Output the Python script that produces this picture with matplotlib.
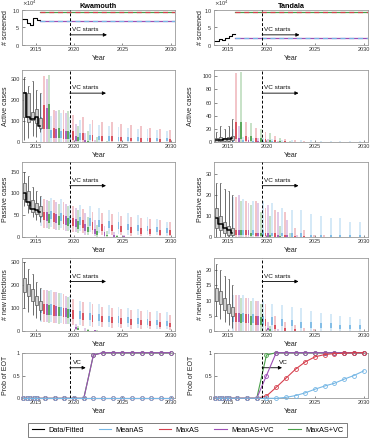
import numpy as np
import matplotlib
matplotlib.use("Agg")
import matplotlib.pyplot as plt
from matplotlib.lines import Line2D

plt.rcParams["font.family"] = ["Liberation Sans", "DejaVu Sans"]

# ──────────────────────────────────────────────
# Data
# ──────────────────────────────────────────────
years = [2017, 2018, 2019, 2020, 2021, 2022, 2023, 2024, 2025, 2026, 2027, 2028, 2029, 2030]
data_x = [2014.85, 2015.25, 2015.7, 2016.1, 2016.5]
vc_start = 2019.55

strategies = ["MeanAS", "MaxAS", "MeanAS+VC", "MaxAS+VC"]
colors = ["#76b7e5", "#d6404e", "#9d4fb5", "#4aa04a"]
offsets = [-0.4, -0.1, 0.15, 0.4]

# screened (people)
ks_x = [2014.6, 2015.1, 2015.4, 2015.75, 2016.2, 2016.5]
ks_y = [7.3e4, 6.2e4, 5.7e4, 7.6e4, 7.1e4, 7.1e4]
ks_mean, ks_max = 6.9e4, 9.4e4
ts_x = [2014.65, 2015.1, 2015.45, 2015.75, 2016.15, 2016.5, 2016.75]
ts_y = [1.0e4, 1.7e4, 1.4e4, 2.1e4, 2.6e4, 3.2e4, 3.2e4]
ts_mean, ts_max = 1.9e4, 9.5e4

# Kwamouth active cases
ka_data_lo = [10, 20, 30, 25, 50]
ka_data_q1 = [120, 95, 105, 90, 70]
ka_data_q3 = [240, 235, 145, 160, 115]
ka_data_hi = [310, 265, 290, 250, 235]
ka_fit = [235, 120, 112, 120, 78]
ka_mean_hi = [230, 125, 140, 120, 105, 85, 80, 78, 72, 68, 65, 62, 60, 55]
ka_mean_q3 = [120, 60, 55, 50, 42, 36, 32, 30, 27, 25, 24, 22, 21, 20]
ka_mean_q1 = [60, 22, 20, 16, 12, 10, 9, 8, 7, 6, 6, 5, 5, 4]
ka_max_hi = [315, 155, 155, 130, 120, 105, 95, 95, 85, 80, 75, 70, 65, 60]
ka_max_q3 = [175, 70, 62, 52, 42, 36, 30, 28, 25, 22, 20, 19, 17, 16]
ka_max_q1 = [65, 22, 18, 12, 9, 7, 5, 5, 4, 4, 3, 3, 3, 2]
ka_meanvc_hi = [300, 150, 140, 85, 45, 12, 3, 1, 0, 0, 0, 0, 0, 0]
ka_meanvc_q3 = [165, 65, 52, 28, 10, 2, 0, 0, 0, 0, 0, 0, 0, 0]
ka_meanvc_q1 = [62, 22, 16, 6, 1, 0, 0, 0, 0, 0, 0, 0, 0, 0]
ka_maxvc_hi = [320, 155, 150, 75, 55, 25, 5, 1, 0, 0, 0, 0, 0, 0]
ka_maxvc_q3 = [180, 68, 55, 25, 8, 2, 0, 0, 0, 0, 0, 0, 0, 0]
ka_maxvc_q1 = [65, 22, 16, 5, 1, 0, 0, 0, 0, 0, 0, 0, 0, 0]

# Kwamouth passive cases
kp_data_lo = [70, 55, 45, 38, 35]
kp_data_q1 = [88, 72, 58, 52, 48]
kp_data_q3 = [125, 105, 85, 78, 70]
kp_data_hi = [150, 140, 115, 105, 95]
kp_fit = [100, 80, 65, 62, 58]
kp_mean_lo = [25, 22, 20, 15, 12, 10, 8, 7, 6, 5, 4, 3, 3, 2]
kp_mean_q1 = [42, 40, 36, 30, 28, 25, 22, 20, 18, 16, 14, 12, 10, 9]
kp_mean_q3 = [62, 60, 55, 48, 45, 42, 38, 36, 33, 30, 27, 24, 22, 20]
kp_mean_hi = [92, 90, 86, 74, 72, 70, 66, 62, 58, 55, 50, 45, 40, 35]
kp_max_lo = [20, 18, 15, 10, 8, 6, 5, 4, 3, 2, 2, 1, 1, 1]
kp_max_q1 = [38, 35, 30, 25, 20, 16, 14, 12, 10, 8, 7, 6, 5, 4]
kp_max_q3 = [58, 55, 50, 42, 38, 33, 30, 28, 25, 22, 20, 18, 16, 15]
kp_max_hi = [88, 85, 80, 70, 65, 58, 55, 52, 48, 45, 42, 40, 38, 35]
kp_meanvc_lo = [20, 16, 14, 10, 5, 1, 0, 0, 0, 0, 0, 0, 0, 0]
kp_meanvc_q1 = [36, 32, 28, 22, 14, 6, 2, 0, 0, 0, 0, 0, 0, 0]
kp_meanvc_q3 = [56, 52, 48, 40, 30, 18, 10, 3, 1, 0, 0, 0, 0, 0]
kp_meanvc_hi = [85, 80, 76, 66, 55, 38, 25, 10, 3, 0, 0, 0, 0, 0]
kp_maxvc_lo = [18, 15, 12, 8, 3, 0, 0, 0, 0, 0, 0, 0, 0, 0]
kp_maxvc_q1 = [32, 28, 25, 18, 10, 4, 1, 0, 0, 0, 0, 0, 0, 0]
kp_maxvc_q3 = [52, 48, 44, 36, 22, 12, 4, 1, 0, 0, 0, 0, 0, 0]
kp_maxvc_hi = [82, 76, 70, 62, 45, 28, 12, 4, 0, 0, 0, 0, 0, 0]

# Kwamouth new infections
kn_data_lo = [100, 80, 70, 55, 45]
kn_data_q1 = [170, 150, 130, 110, 92]
kn_data_q3 = [230, 205, 180, 150, 130]
kn_data_hi = [300, 270, 245, 210, 185]
kn_mean_lo = [40, 38, 35, 30, 26, 22, 20, 18, 16, 14, 12, 10, 9, 8]
kn_mean_q1 = [75, 70, 65, 58, 52, 46, 42, 38, 35, 32, 29, 26, 24, 22]
kn_mean_q3 = [120, 115, 105, 95, 85, 78, 72, 66, 62, 58, 54, 50, 46, 42]
kn_mean_hi = [180, 175, 165, 150, 130, 125, 115, 110, 105, 100, 95, 90, 85, 80]
kn_max_lo = [38, 34, 30, 25, 20, 18, 15, 13, 11, 9, 8, 7, 6, 5]
kn_max_q1 = [72, 66, 60, 52, 45, 40, 36, 32, 29, 26, 23, 20, 18, 16]
kn_max_q3 = [118, 110, 100, 88, 78, 70, 64, 58, 54, 50, 46, 42, 38, 35]
kn_max_hi = [178, 170, 160, 140, 125, 115, 105, 100, 95, 90, 85, 80, 75, 70]
kn_meanvc_lo = [38, 34, 30, 2, 0, 0, 0, 0, 0, 0, 0, 0, 0, 0]
kn_meanvc_q1 = [70, 65, 60, 6, 1, 0, 0, 0, 0, 0, 0, 0, 0, 0]
kn_meanvc_q3 = [115, 108, 98, 15, 4, 1, 0, 0, 0, 0, 0, 0, 0, 0]
kn_meanvc_hi = [175, 168, 150, 30, 10, 3, 0, 0, 0, 0, 0, 0, 0, 0]
kn_maxvc_lo = [35, 30, 28, 1, 0, 0, 0, 0, 0, 0, 0, 0, 0, 0]
kn_maxvc_q1 = [68, 62, 56, 4, 0, 0, 0, 0, 0, 0, 0, 0, 0, 0]
kn_maxvc_q3 = [112, 105, 95, 10, 2, 0, 0, 0, 0, 0, 0, 0, 0, 0]
kn_maxvc_hi = [172, 165, 145, 20, 6, 1, 0, 0, 0, 0, 0, 0, 0, 0]

# Tandala active cases
ta_data_lo = [0, 0, 0, 0, 0]
ta_data_q1 = [1, 2, 2, 2, 3]
ta_data_q3 = [6, 8, 7, 8, 10]
ta_data_hi = [15, 25, 20, 25, 35]
ta_fit = [3, 4, 5, 5, 6]
ta_mean_hi = [20, 8, 7, 6, 5, 4, 3, 3, 3, 2, 2, 2, 2, 2]
ta_mean_q3 = [5, 3, 2, 2, 2, 1, 1, 1, 1, 1, 0.5, 0.5, 0.5, 0.5]
ta_mean_q1 = [1, 0.5, 0.5, 0, 0, 0, 0, 0, 0, 0, 0, 0, 0, 0]
ta_max_hi = [104, 30, 22, 15, 10, 5, 3, 2, 1, 1, 1, 0, 0, 0]
ta_max_q3 = [30, 10, 7, 5, 3, 2, 1, 0.5, 0, 0, 0, 0, 0, 0]
ta_max_q1 = [5, 2, 1, 1, 0, 0, 0, 0, 0, 0, 0, 0, 0, 0]
ta_meanvc_hi = [25, 8, 6, 5, 2, 1, 0, 0, 0, 0, 0, 0, 0, 0]
ta_meanvc_q3 = [6, 3, 2, 1, 0.5, 0, 0, 0, 0, 0, 0, 0, 0, 0]
ta_meanvc_q1 = [1, 0.5, 0, 0, 0, 0, 0, 0, 0, 0, 0, 0, 0, 0]
ta_maxvc_hi = [106, 29, 20, 14, 6, 2, 1, 0, 0, 0, 0, 0, 0, 0]
ta_maxvc_q3 = [30, 10, 7, 4, 2, 0.5, 0, 0, 0, 0, 0, 0, 0, 0]
ta_maxvc_q1 = [5, 2, 1, 0.5, 0, 0, 0, 0, 0, 0, 0, 0, 0, 0]

# Tandala passive cases
tp_data_lo = [0, 0, 0, 0, 0]
tp_data_q1 = [4, 3, 2, 1, 1]
tp_data_q3 = [14, 10, 7, 5, 4]
tp_data_hi = [26, 26, 23, 22, 20]
tp_fit = [9, 6, 4, 3, 2]
tp_mean_hi = [19, 18, 17, 17, 16, 14, 13, 13, 11, 10, 9, 9, 7, 7]
tp_mean_q3 = [3, 3, 3, 3, 2, 2, 2, 2, 1, 1, 1, 1, 1, 1]
tp_mean_q1 = [1, 1, 1, 0.5, 0.5, 0.5, 0, 0, 0, 0, 0, 0, 0, 0]
tp_max_hi = [19, 17, 17, 14, 13, 12, 4, 3, 1, 1, 0, 0, 0, 0]
tp_max_q3 = [3, 3, 2, 2, 2, 1, 0.5, 0.5, 0, 0, 0, 0, 0, 0]
tp_max_q1 = [1, 1, 0.5, 0.5, 0, 0, 0, 0, 0, 0, 0, 0, 0, 0]
tp_meanvc_hi = [20, 16, 16, 15, 12, 8, 1, 0, 0, 0, 0, 0, 0, 0]
tp_meanvc_q3 = [3, 3, 2, 2, 1, 1, 0, 0, 0, 0, 0, 0, 0, 0]
tp_meanvc_q1 = [1, 1, 0.5, 0, 0, 0, 0, 0, 0, 0, 0, 0, 0, 0]
tp_maxvc_hi = [17, 15, 12, 10, 5, 2, 0, 0, 0, 0, 0, 0, 0, 0]
tp_maxvc_q3 = [3, 2, 2, 1, 0.5, 0, 0, 0, 0, 0, 0, 0, 0, 0]
tp_maxvc_q1 = [1, 0.5, 0.5, 0, 0, 0, 0, 0, 0, 0, 0, 0, 0, 0]

# Tandala new infections
tn_data_lo = [5, 4, 3, 2, 1]
tn_data_q1 = [10, 9, 7, 6, 5]
tn_data_q3 = [14, 13, 11, 9, 8]
tn_data_hi = [22, 20, 18, 17, 15]
tn_mean_hi = [12, 12, 11, 10, 9, 8.5, 8, 7.5, 6.5, 6, 5.5, 5, 4.5, 4]
tn_mean_q3 = [6, 6, 5.5, 5, 4.5, 4, 3.5, 3, 3, 2.5, 2.5, 2, 2, 2]
tn_mean_q1 = [3, 3, 2.5, 2, 2, 1.5, 1.5, 1, 1, 1, 1, 0.5, 0.5, 0.5]
tn_max_hi = [12, 11, 10, 9, 5, 3, 2, 1, 0.5, 0, 0, 0, 0, 0]
tn_max_q3 = [6, 5.5, 5, 4, 2, 1, 0.5, 0, 0, 0, 0, 0, 0, 0]
tn_max_q1 = [3, 2.5, 2, 1.5, 0.5, 0, 0, 0, 0, 0, 0, 0, 0, 0]
tn_meanvc_hi = [12, 11, 10, 3, 0.5, 0, 0, 0, 0, 0, 0, 0, 0, 0]
tn_meanvc_q3 = [6, 5.5, 5, 1, 0, 0, 0, 0, 0, 0, 0, 0, 0, 0]
tn_meanvc_q1 = [3, 2.5, 2, 0.3, 0, 0, 0, 0, 0, 0, 0, 0, 0, 0]
tn_maxvc_hi = [11, 10, 9, 1.5, 0, 0, 0, 0, 0, 0, 0, 0, 0, 0]
tn_maxvc_q3 = [5.5, 5, 4.5, 0.5, 0, 0, 0, 0, 0, 0, 0, 0, 0, 0]
tn_maxvc_q1 = [2.5, 2, 2, 0, 0, 0, 0, 0, 0, 0, 0, 0, 0, 0]

# Probability of elimination of transmission (EOT)
eot_x = [2014.75, 2015.1, 2015.45, 2015.8, 2016.15, 2017, 2018, 2019, 2020,
         2021, 2022, 2023, 2024, 2025, 2026, 2027, 2028, 2029, 2030]
ke_mean = [0, 0, 0, 0, 0, 0, 0, 0, 0, 0, 0, 0, 0, 0, 0, 0, 0, 0, 0]
ke_max = [0, 0, 0, 0, 0, 0, 0, 0, 0, 0, 0, 0, 0, 0, 0, 0, 0, 0, 0]
ke_meanvc = [0, 0, 0, 0, 0, 0, 0, 0, 0, 0, 0.95, 1, 1, 1, 1, 1, 1, 1, 1]
ke_maxvc = [0, 0, 0, 0, 0, 0, 0, 0, 0, 0, 0.95, 1, 1, 1, 1, 1, 1, 1, 1]
te_mean = [0, 0, 0, 0, 0, 0, 0, 0, 0, 0, 0.02, 0.06, 0.12, 0.2, 0.27, 0.33, 0.42, 0.5, 0.6]
te_max = [0, 0, 0, 0, 0, 0, 0, 0, 0.05, 0.24, 0.44, 0.64, 0.8, 0.91, 0.96, 0.98, 0.99, 1, 1]
te_meanvc = [0, 0, 0, 0, 0, 0, 0, 0, 0.5, 1, 1, 1, 1, 1, 1, 1, 1, 1, 1]
te_maxvc = [0, 0, 0, 0, 0, 0, 0, 0, 0.95, 1, 1, 1, 1, 1, 1, 1, 1, 1, 1]

xtick_pos = [2016.0, 2020, 2025, 2030]
xtick_labels = ["2015", "2020", "2025", "2030"]

TICK_FS = 4.0
LABEL_FS = 5.0


# ──────────────────────────────────────────────
# Helpers
# ──────────────────────────────────────────────
def style_axes(ax, ylim, yticks, ylabel, ylab_x):
    ax.set_xlim(2014.6, 2030.45)
    ax.set_ylim(*ylim)
    ax.set_yticks(yticks)
    ax.set_xticks(xtick_pos)
    ax.set_xticklabels(xtick_labels)
    ax.tick_params(direction="in", length=1.8, width=0.4, labelsize=TICK_FS,
                   pad=1.5, colors="#333333")
    for s in ax.spines.values():
        s.set_color("#9a9a9a")
        s.set_linewidth(0.6)
    ax.set_ylabel(ylabel, fontsize=LABEL_FS, color="#222222")
    ax.yaxis.set_label_coords(ylab_x, 0.5)
    ax.set_xlabel("Year", fontsize=LABEL_FS, labelpad=2.0, color="#222222")
    ax.axvline(vc_start, color="k", ls=(0, (3, 2)), lw=0.7, zorder=8)


def vc_arrow(ax, label, ytext, yarrow, xend, xtext):
    tr = ax.get_xaxis_transform()
    ax.annotate("", xy=(xend, yarrow), xytext=(vc_start, yarrow), xycoords=tr,
                arrowprops=dict(arrowstyle="-|>", color="k", lw=0.6,
                                mutation_scale=5, shrinkA=0, shrinkB=0))
    ax.text(xtext, ytext, label, transform=tr, fontsize=4.6, va="bottom",
            ha="left", color="#111111")


def draw_data(ax, lo, q1, q3, hi, fit=None):
    ax.vlines(data_x, lo, hi, color="#333333", lw=0.5, zorder=3)
    ax.hlines(hi, np.subtract(data_x, 0.06), np.add(data_x, 0.06),
              color="#333333", lw=0.5, zorder=3)
    ax.bar(data_x, np.subtract(q3, q1), bottom=q1, width=0.26,
           color="#cfcfcf", edgecolor="#555555", lw=0.5, zorder=4)
    if fit is not None:
        ax.step(data_x, fit, where="mid", color="k", lw=1.1, zorder=6)


def draw_strategy(ax, k, hi, q3, q1, lo=None):
    pos = np.add(years, offsets[k])
    base = lo if lo is not None else np.zeros(len(hi))
    ax.bar(pos, np.subtract(hi, base), bottom=base, width=0.2,
           color=colors[k], alpha=0.3, lw=0, zorder=2)
    ax.bar(pos, np.subtract(q3, q1), bottom=q1, width=0.2,
           color=colors[k], alpha=0.85, lw=0, zorder=2)


# ──────────────────────────────────────────────
# Figure
# ──────────────────────────────────────────────
fig = plt.figure(figsize=(3.71, 4.40), dpi=100)
W, H = 371.0, 440.0
col_x = [(22, 175), (214, 368)]
row_y = [(10, 45), (70, 142.3), (161.7, 236.7), (258.3, 330.7), (352.7, 398.3)]
axes = [[fig.add_axes([x0 / W, 1 - y1 / H, (x1 - x0) / W, (y1 - y0) / H])
         for (x0, x1) in col_x] for (y0, y1) in row_y]
# y-label anchor is the label's right edge (axes fraction)
left_lab = -0.088
right_lab = [-0.068, -0.127, -0.068, -0.068, -0.125]

# row 1: screened
for j, (sx, sy, smean, smax, title) in enumerate([
        (ks_x, ks_y, ks_mean, ks_max, "Kwamouth"),
        (ts_x, ts_y, ts_mean, ts_max, "Tandala")]):
    ax = axes[0][j]
    ax.step(sx, sy, where="post", color="k", lw=0.8)
    x0 = sx[-1]
    ax.plot([x0, 2030.45], [smax, smax], color=colors[3], lw=0.9)
    ax.plot([x0, 2030.45], [smax, smax], color=colors[1], lw=0.9, ls=(0, (4, 3)))
    ax.plot([x0, 2030.45], [smean, smean], color=colors[2], lw=0.9)
    ax.plot([x0, 2030.45], [smean, smean], color=colors[0], lw=0.9, ls=(0, (4, 3)))
    style_axes(ax, (0, 1.0e5), [0, 5e4, 1e5], "# screened",
               left_lab if j == 0 else right_lab[0])
    ax.ticklabel_format(axis="y", style="sci", scilimits=(4, 4), useMathText=True)
    ax.yaxis.get_offset_text().set_fontsize(TICK_FS)
    ax.set_title(title, fontsize=5.2, fontweight="bold", pad=1.5)
    vc_arrow(ax, "VC starts", 0.37, 0.29, 2023.4, 2019.75)

# rows 2-4: box panels
panels = [
    (1, 0, "Active cases", (0, 343), [0, 100, 200, 300],
     (ka_data_lo, ka_data_q1, ka_data_q3, ka_data_hi, ka_fit),
     [(ka_mean_hi, ka_mean_q3, ka_mean_q1, None), (ka_max_hi, ka_max_q3, ka_max_q1, None),
      (ka_meanvc_hi, ka_meanvc_q3, ka_meanvc_q1, None), (ka_maxvc_hi, ka_maxvc_q3, ka_maxvc_q1, None)]),
    (1, 1, "Active cases", (0, 109), [0, 20, 40, 60, 80, 100],
     (ta_data_lo, ta_data_q1, ta_data_q3, ta_data_hi, ta_fit),
     [(ta_mean_hi, ta_mean_q3, ta_mean_q1, None), (ta_max_hi, ta_max_q3, ta_max_q1, None),
      (ta_meanvc_hi, ta_meanvc_q3, ta_meanvc_q1, None), (ta_maxvc_hi, ta_maxvc_q3, ta_maxvc_q1, None)]),
    (2, 0, "Passive cases", (0, 173), [0, 50, 100, 150],
     (kp_data_lo, kp_data_q1, kp_data_q3, kp_data_hi, kp_fit),
     [(kp_mean_hi, kp_mean_q3, kp_mean_q1, kp_mean_lo), (kp_max_hi, kp_max_q3, kp_max_q1, kp_max_lo),
      (kp_meanvc_hi, kp_meanvc_q3, kp_meanvc_q1, kp_meanvc_lo),
      (kp_maxvc_hi, kp_maxvc_q3, kp_maxvc_q1, kp_maxvc_lo)]),
    (2, 1, "Passive cases", (0, 36), [0, 10, 20, 30],
     (tp_data_lo, tp_data_q1, tp_data_q3, tp_data_hi, tp_fit),
     [(tp_mean_hi, tp_mean_q3, tp_mean_q1, None), (tp_max_hi, tp_max_q3, tp_max_q1, None),
      (tp_meanvc_hi, tp_meanvc_q3, tp_meanvc_q1, None), (tp_maxvc_hi, tp_maxvc_q3, tp_maxvc_q1, None)]),
    (3, 0, "# new infections", (0, 315), [0, 100, 200, 300],
     (kn_data_lo, kn_data_q1, kn_data_q3, kn_data_hi, None),
     [(kn_mean_hi, kn_mean_q3, kn_mean_q1, kn_mean_lo), (kn_max_hi, kn_max_q3, kn_max_q1, kn_max_lo),
      (kn_meanvc_hi, kn_meanvc_q3, kn_meanvc_q1, kn_meanvc_lo),
      (kn_maxvc_hi, kn_maxvc_q3, kn_maxvc_q1, kn_maxvc_lo)]),
    (3, 1, "# new infections", (0, 24), [0, 5, 10, 15, 20],
     (tn_data_lo, tn_data_q1, tn_data_q3, tn_data_hi, None),
     [(tn_mean_hi, tn_mean_q3, tn_mean_q1, None), (tn_max_hi, tn_max_q3, tn_max_q1, None),
      (tn_meanvc_hi, tn_meanvc_q3, tn_meanvc_q1, None), (tn_maxvc_hi, tn_maxvc_q3, tn_maxvc_q1, None)]),
]

for r, c, ylabel, ylim, yticks, dat, strat in panels:
    ax = axes[r][c]
    draw_data(ax, *dat)
    for k, (hi, q3, q1, lo) in enumerate(strat):
        draw_strategy(ax, k, hi, q3, q1, lo)
    style_axes(ax, ylim, yticks, ylabel, left_lab if c == 0 else right_lab[r])
    vc_arrow(ax, "VC starts", 0.72, 0.68, 2023.3, 2019.75)

# row 5: probability of EOT
eot_z = {3: 3, 2: 4, 1: 5, 0: 6}
for c, series, txt in [
        (0, [ke_mean, ke_max, ke_meanvc, ke_maxvc], (0.72, 2019.85, 2021.2)),
        (1, [te_mean, te_max, te_meanvc, te_maxvc], (0.72, 2021.3, 2021.6))]:
    ax = axes[4][c]
    for k in [3, 2, 1, 0]:
        ax.plot(eot_x, series[k], color=colors[k], lw=0.8, marker="o", ms=2.8,
                mfc="none", mew=0.6, clip_on=False, zorder=eot_z[k])
    style_axes(ax, (0, 1.0), [0, 0.5, 1], "Prob of EOT",
               left_lab if c == 0 else right_lab[4])
    ax.set_yticklabels(["0", "0.5", "1"])
    vc_arrow(ax, "VC", txt[0], 0.67, txt[2], txt[1])

# legend
handles = [Line2D([], [], color="k", lw=0.8)] + \
          [Line2D([], [], color=c, lw=0.8) for c in colors]
labels = ["Data/Fitted"] + strategies
leg = fig.legend(handles, labels, loc="center", bbox_to_anchor=(187.5 / W, 1 - 430 / H),
                 ncol=5, fontsize=5.3, frameon=True, fancybox=False, edgecolor="#444444",
                 handlelength=1.7, handletextpad=0.6, columnspacing=2.0, borderpad=0.45)
leg.get_frame().set_linewidth(0.6)

fig.savefig("out.png", dpi=100)
